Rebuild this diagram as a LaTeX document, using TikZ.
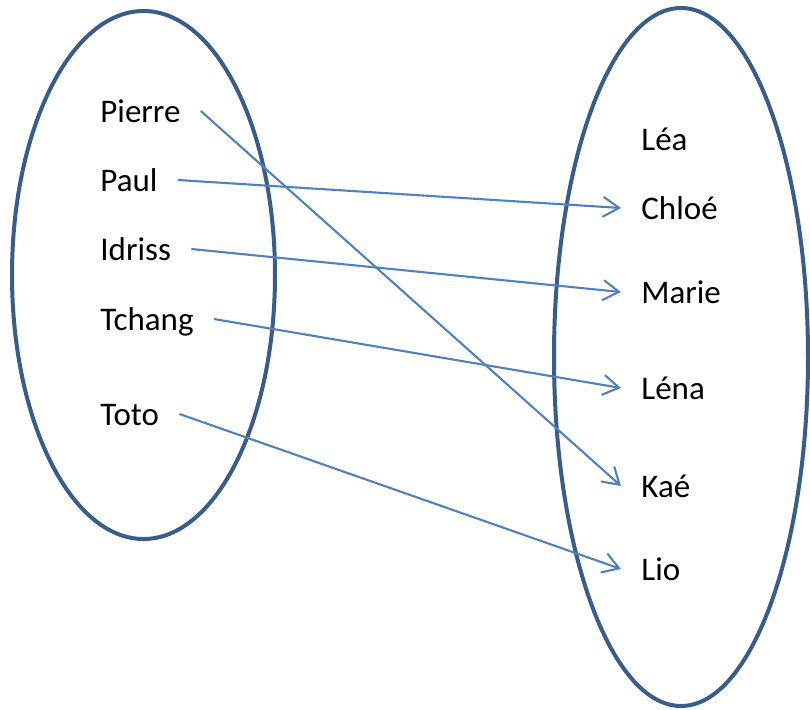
\documentclass[tikz,border=0pt]{standalone}
\usepackage{fontspec}
\setmainfont{Carlito}
\usetikzlibrary{arrows.meta}
\definecolor{setline}{HTML}{385D8A}
\definecolor{maparrow}{HTML}{4F81BD}
\begin{document}
\begin{tikzpicture}[x=0.5pt,y=-0.5pt,
  person/.style={anchor=base west,inner xsep=10pt,inner ysep=0pt,
    font=\fontsize{16.5}{20}\selectfont,text=black},
  setborder/.style={draw=setline,line width=2pt},
  mapsto/.style={draw=maparrow,line width=1.05pt,
    -{Straight Barb[length=8pt,width=10pt,line width=1.05pt]}}]
\useasboundingbox (0,0) rectangle (810,709);
% the two sets
\draw[setborder] (143.5,275) ellipse [x radius=65.75pt,y radius=132pt];
\draw[setborder] (681,357) ellipse [x radius=63.5pt,y radius=174.5pt];
% left set
\node[person] (pierre) at (80,122) {Pierre};
\node[person] (paul)   at (80,191) {Paul};
\node[person] (idriss) at (80,260) {Idriss};
\node[person] (tchang) at (80,330) {Tchang};
\node[person] (toto)   at (80,425) {Toto};
% right set
\node[person] (lea)   at (621,150) {Léa};
\node[person] (chloe) at (621,219) {Chloé};
\node[person] (marie) at (621,303) {Marie};
\node[person] (lena)  at (621,399) {Léna};
\node[person] (kae)   at (621,497) {Kaé};
\node[person] (lio)   at (621,580) {Lio};
% the mapping
\draw[mapsto] ([yshift=5.5pt]pierre.base east) -- ([yshift=5.5pt]kae.base west);
\draw[mapsto] ([yshift=5.5pt]paul.base east)   -- ([yshift=5.5pt]chloe.base west);
\draw[mapsto] ([yshift=5.5pt]idriss.base east) -- ([yshift=5.5pt]marie.base west);
\draw[mapsto] ([yshift=5.5pt]tchang.base east) -- ([yshift=5.5pt]lena.base west);
\draw[mapsto] ([yshift=5.5pt]toto.base east)   -- ([yshift=5.5pt]lio.base west);
\end{tikzpicture}
\end{document}
